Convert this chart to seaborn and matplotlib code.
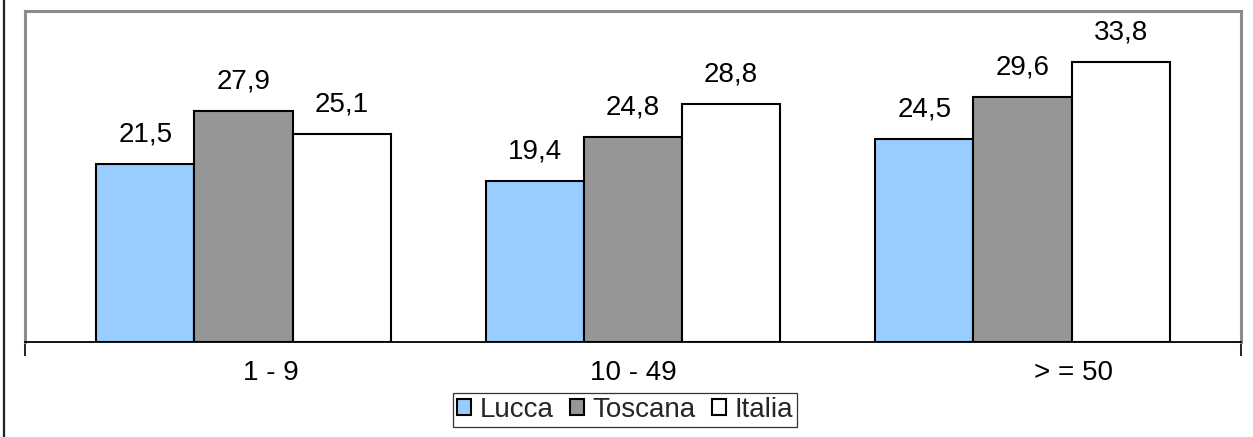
#!/usr/bin/env python3
"""Grouped bar chart: Lucca / Toscana / Italia by firm size class."""

import pandas as pd
import matplotlib
matplotlib.use('Agg')
import matplotlib.pyplot as plt
from matplotlib.patches import Patch
from matplotlib.lines import Line2D
from matplotlib.transforms import ScaledTranslation
import seaborn as sns

categories = ['1 - 9', '10 - 49', '> = 50']
series = ['Lucca', 'Toscana', 'Italia']
lucca = [21.5, 19.4, 24.5]
toscana = [27.9, 24.8, 29.6]
italia = [25.1, 28.8, 33.8]
colors = ['#99CCFF', '#969696', '#FFFFFF']

FONT = ['Liberation Sans', 'Arial', 'DejaVu Sans']
FS = 20


def main():
    df = pd.DataFrame({
        'cat': categories * 3,
        'serie': [s for s in series for _ in categories],
        'val': lucca + toscana + italia,
    })

    sns.set_theme(style='white')
    plt.rcParams['font.family'] = FONT

    fig = plt.figure(figsize=(12.53, 4.37), dpi=100)
    ax = fig.add_axes([25 / 1253, 1 - 342 / 437, (1241 - 25) / 1253, (342 - 11) / 437])

    sns.barplot(data=df, x='cat', y='val', hue='serie', order=categories,
                hue_order=series, palette=colors, width=0.755,
                edgecolor='black', linewidth=1.5, saturation=1,
                legend=False, ax=ax)

    ax.set_xlim(-0.561, 2.561)
    ax.set_ylim(0, 40)
    ax.set_xlabel('')
    ax.set_ylabel('')
    ax.set_yticks([])

    # value labels
    for cont in ax.containers:
        ax.bar_label(cont, labels=[f'{v:.1f}'.replace('.', ',') for v in cont.datavalues],
                     padding=12, fontsize=FS, color='black')

    for side in ['left', 'top', 'right']:
        ax.spines[side].set_color('#8c8c8c')
        ax.spines[side].set_linewidth(2.2)
    ax.spines['bottom'].set_color('black')
    ax.spines['bottom'].set_linewidth(1.3)

    ax.tick_params(axis='x', which='major', length=0, labelsize=FS, pad=13, colors='black')
    ax.set_xticks([-0.561, 2.561], minor=True)
    ax.tick_params(axis='x', which='minor', length=10, width=1.2, direction='out', color='black')
    ax.xaxis.set_tick_params(which='minor', bottom=True)

    shifts = [27, 0, 51]
    for lab, dx in zip(ax.get_xticklabels(), shifts):
        lab.set_transform(lab.get_transform() + ScaledTranslation(dx / 100, 0, fig.dpi_scale_trans))

    handles = [Patch(facecolor=c, edgecolor='black', linewidth=1.5) for c in colors]
    leg = fig.legend(handles, series, loc='center', bbox_to_anchor=(625 / 1253, 1 - 410 / 437),
                     ncol=3, fontsize=FS, frameon=True, fancybox=False,
                     handlelength=0.5, handleheight=0.5, handletextpad=0.3,
                     columnspacing=0.6, borderpad=0.15, borderaxespad=0)
    leg.get_frame().set_edgecolor('black')
    leg.get_frame().set_linewidth(0.9)

    # outer chart frame (left edge visible)
    fig.add_artist(Line2D([4 / 1253, 4 / 1253], [0, 1], color='#222222', lw=1.6))

    fig.savefig('out.png', dpi=100)
    plt.close(fig)


if __name__ == '__main__':
    main()
